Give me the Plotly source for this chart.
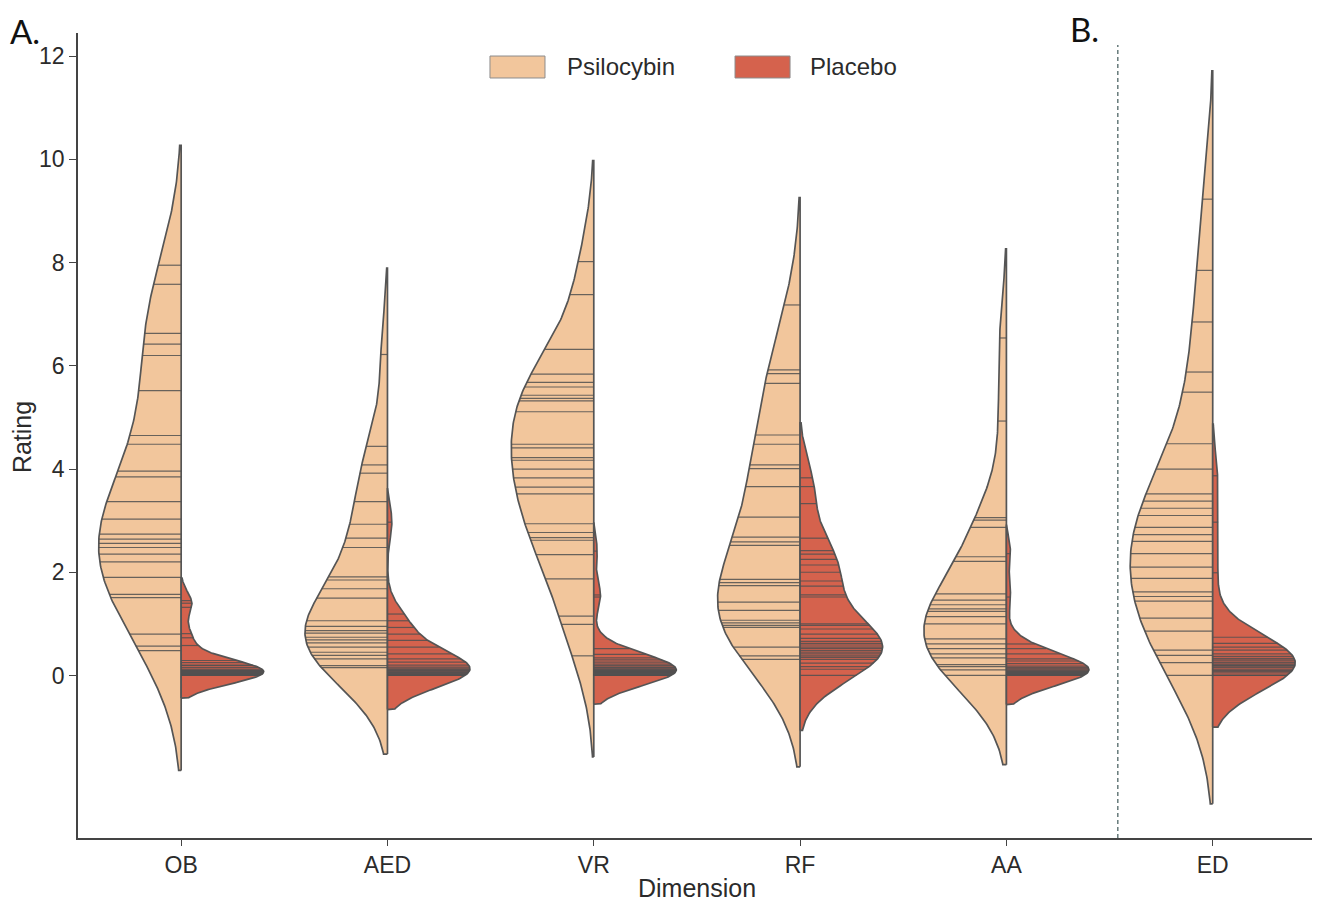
import numpy as np
import plotly.graph_objects as go

dimensions = ["OB", "AED", "VR", "RF", "AA", "ED"]

psilocybin_ob = [7.95, 7.58, 6.63, 6.42, 6.20, 5.52, 4.65, 4.48, 3.96, 3.85, 3.37, 3.03,
                 2.74, 2.64, 2.56, 2.48, 2.35, 2.20, 1.90, 1.57, 1.51, 0.80, 0.57, 0.48]
psilocybin_aed = [6.22, 4.44, 4.08, 3.92, 3.37, 2.93, 2.66, 2.48, 1.91, 1.85, 1.68, 1.50,
                  1.06, 0.95, 0.87, 0.82, 0.74, 0.69, 0.63, 0.55, 0.45, 0.39, 0.32, 0.19, 0.15]
psilocybin_vr = [8.02, 7.38, 6.32, 5.84, 5.68, 5.59, 5.43, 5.37, 5.32, 5.11, 4.48, 4.41,
                 4.22, 4.17, 4.00, 3.83, 3.65, 3.52, 2.94, 2.77, 2.67, 2.62, 2.34, 1.87,
                 1.15, 0.99, 0.38]
psilocybin_rf = [7.18, 5.92, 5.85, 5.66, 4.66, 4.48, 4.08, 4.01, 3.66, 3.07, 2.68, 2.59,
                 2.52, 1.86, 1.80, 1.74, 1.42, 1.26, 1.07, 1.02, 0.97, 0.93, 0.55, 0.38, 0.31]
psilocybin_aa = [6.54, 4.93, 3.06, 3.01, 2.87, 2.30, 2.21, 1.58, 1.46, 1.37, 1.29, 1.24,
                 1.14, 1.00, 0.71, 0.61, 0.52, 0.42, 0.34, 0.21, 0.17, 0.11, 0.00]
psilocybin_ed = [9.23, 7.85, 6.85, 5.88, 5.49, 4.49, 4.00, 3.52, 3.38, 3.24, 2.87, 2.73,
                 2.36, 2.10, 1.88, 1.62, 1.53, 1.44, 1.11, 0.86, 0.49, 0.39, 0.25, 0.00,
                 2.60, 3.10]

placebo_ob = [1.45, 1.40, 1.32, 0.81, 0.73, 0.58, 0.29, 0.25, 0.19, 0.15, 0.10, 0.08,
              0.05, 0.05, 0.03, 0.01, 0.00, 0.00, 0.00, 0.00, 0.00, 0.02, 0.12, 0.20,
              0.00, 0.02, 0.04, 0.06, 0.08, 0.10]
placebo_aed = [2.97, 1.19, 1.06, 0.93, 0.80, 0.68, 0.55, 0.42, 0.32, 0.26, 0.20, 0.16,
               0.12, 0.10, 0.08, 0.06, 0.04, 0.02, 0.00, 0.00, 0.00, 0.00, 0.00,
               0.05, 0.11, 0.14]
placebo_vr = [2.41, 1.56, 1.52, 0.52, 0.41, 0.34, 0.26, 0.19, 0.13, 0.08, 0.03, 0.00,
              0.00, 0.00, 0.05, 0.10, 0.15, 0.22, 0.30, 0.00, 0.02, 0.06,
              0.04, 0.07, 0.09, 0.11, 0.12, 0.16, 0.00, 0.01]
placebo_rf = [3.83, 3.66, 3.33, 2.66, 2.42, 2.35, 2.25, 2.14, 2.00, 1.83, 1.73, 1.56,
              1.52, 1.00, 0.97, 0.90, 0.66, 0.59, 0.48, 0.38, 0.31, 0.24, 0.17, 0.12, 0.00,
              0.35, 0.42, 0.45, 0.52, 0.55, 0.62, 0.72, 0.80]
placebo_aa = [2.36, 1.52, 0.61, 0.52, 0.42, 0.32, 0.23, 0.13, 0.07, 0.02, 0.00, 0.00,
              0.00, 0.05, 0.10, 0.18, 0.28, 0.00, 0.03, 0.15,
              0.04, 0.08, 0.12, 0.00, 0.06]
placebo_ed = [3.87, 2.97, 1.99, 0.74, 0.62, 0.49, 0.37, 0.25, 0.19, 0.12, 0.00, 0.00,
              0.05, 0.10, 0.15, 0.22, 0.30, 0.42, 0.55, 0.00, 0.08,
              0.18, 0.20, 0.28, 0.33]

groups = {
    "Psilocybin": [psilocybin_ob, psilocybin_aed, psilocybin_vr, psilocybin_rf, psilocybin_aa, psilocybin_ed],
    "Placebo": [placebo_ob, placebo_aed, placebo_vr, placebo_rf, placebo_aa, placebo_ed],
}
colors = {"Psilocybin": "#F2C69C", "Placebo": "#D5624D"}
sides = {"Psilocybin": -1, "Placebo": 1}

EDGE = "#555555"
HALF = 0.4
FONT = "Liberation Sans, Arial, sans-serif"
TXT = "#2b2b2b"


def half_violin(values):
    # gaussian kde, scott bandwidth, cut=2, scaled to equal width
    v = np.asarray(values, float)
    bw = v.std(ddof=1) * len(v) ** (-1 / 5)
    grid = np.linspace(v.min() - 2 * bw, v.max() + 2 * bw, 300)
    dens = np.exp(-0.5 * ((grid[:, None] - v[None, :]) / bw) ** 2).sum(axis=1)
    at = np.exp(-0.5 * ((v[:, None] - v[None, :]) / bw) ** 2).sum(axis=1)
    peak = dens.max()
    return grid, dens / peak * HALF, at / peak * HALF


fig = go.Figure()

for name, datasets in groups.items():
    s = sides[name]
    stick_x, stick_y = [], []
    for i, vals in enumerate(datasets):
        grid, w, wv = half_violin(vals)
        xs = np.concatenate([[i], i + s * w, [i, i]])
        ys = np.concatenate([[grid[0]], grid, [grid[-1], grid[0]]])
        fig.add_trace(go.Scatter(
            x=xs, y=ys, mode="lines", fill="toself",
            fillcolor=colors[name],
            line=dict(color=EDGE, width=1.7),
            name=name, showlegend=False, hoverinfo="skip",
        ))
        for val, wi in zip(vals, wv):
            stick_x += [i, i + s * wi, None]
            stick_y += [val, val, None]
    fig.add_trace(go.Scatter(
        x=stick_x, y=stick_y, mode="lines",
        line=dict(color="rgba(80,80,80,0.85)", width=1.2),
        showlegend=False, hoverinfo="skip",
    ))

# dashed separator between panel A and panel B
fig.add_shape(type="line", xref="x", yref="paper", x0=4.54, x1=4.54, y0=0, y1=0.985,
              line=dict(color="#5b7070", width=1.4, dash="4px,3px"))

# legend drawn as patches at the top centre
legend_items = [("Psilocybin", 0.3317, 0.3760, 0.3921), ("Placebo", 0.5290, 0.5733, 0.5878)]
for name, px0, px1, tx in legend_items:
    fig.add_shape(type="rect", xref="paper", yref="paper", x0=px0, x1=px1, y0=0.9441, y1=0.9714,
                  fillcolor=colors[name], line=dict(color="#8c8c8c", width=1))
    fig.add_annotation(text=name, xref="paper", yref="paper", x=tx, y=0.9578,
                       xanchor="left", yanchor="middle", showarrow=False,
                       font=dict(family=FONT, size=24, color=TXT))

fig.add_annotation(text="A.", xref="paper", yref="paper", x=-0.0564, y=1.03,
                   xanchor="left", yanchor="top", showarrow=False,
                   font=dict(family="Lato, sans-serif", size=33, color="#111111"))
fig.add_annotation(text="B.", xref="paper", yref="paper", x=0.797, y=1.005,
                   xanchor="left", yanchor="middle", showarrow=False,
                   font=dict(family="Lato, sans-serif", size=33, color="#111111"))

fig.add_annotation(text="Rating", xref="paper", yref="paper", x=-0.0451, y=0.498,
                   textangle=-90, showarrow=False, xanchor="center", yanchor="middle",
                   font=dict(family=FONT, size=25, color=TXT))
fig.add_annotation(text="Dimension", xref="paper", yref="paper", x=0.498, y=-0.062,
                   showarrow=False, xanchor="center", yanchor="middle",
                   font=dict(family=FONT, size=25, color=TXT))

fig.update_xaxes(
    range=[-0.5, 5.52], tickvals=list(range(len(dimensions))), ticktext=dimensions,
    showline=True, linecolor="#444444", linewidth=1.5, ticks="outside", ticklen=6,
    tickcolor="#444444", showgrid=False, zeroline=False, automargin=False,
    tickfont=dict(family=FONT, size=23, color=TXT),
)
fig.update_yaxes(
    range=[-3.15, 12.45], tickvals=[0, 2, 4, 6, 8, 10, 12],
    showline=True, linecolor="#444444", linewidth=1.5, ticks="outside", ticklen=7,
    tickcolor="#444444", showgrid=False, zeroline=False, automargin=False,
    tickfont=dict(family=FONT, size=23, color=TXT),
)

# the page adds an 8 px body margin, so the margins are offset by that amount
fig.update_layout(
    width=1320, height=901,
    margin=dict(l=70, r=8, t=25, b=71),
    plot_bgcolor="white", paper_bgcolor="white",
    showlegend=False,
)

fig.write_html("out.html")
